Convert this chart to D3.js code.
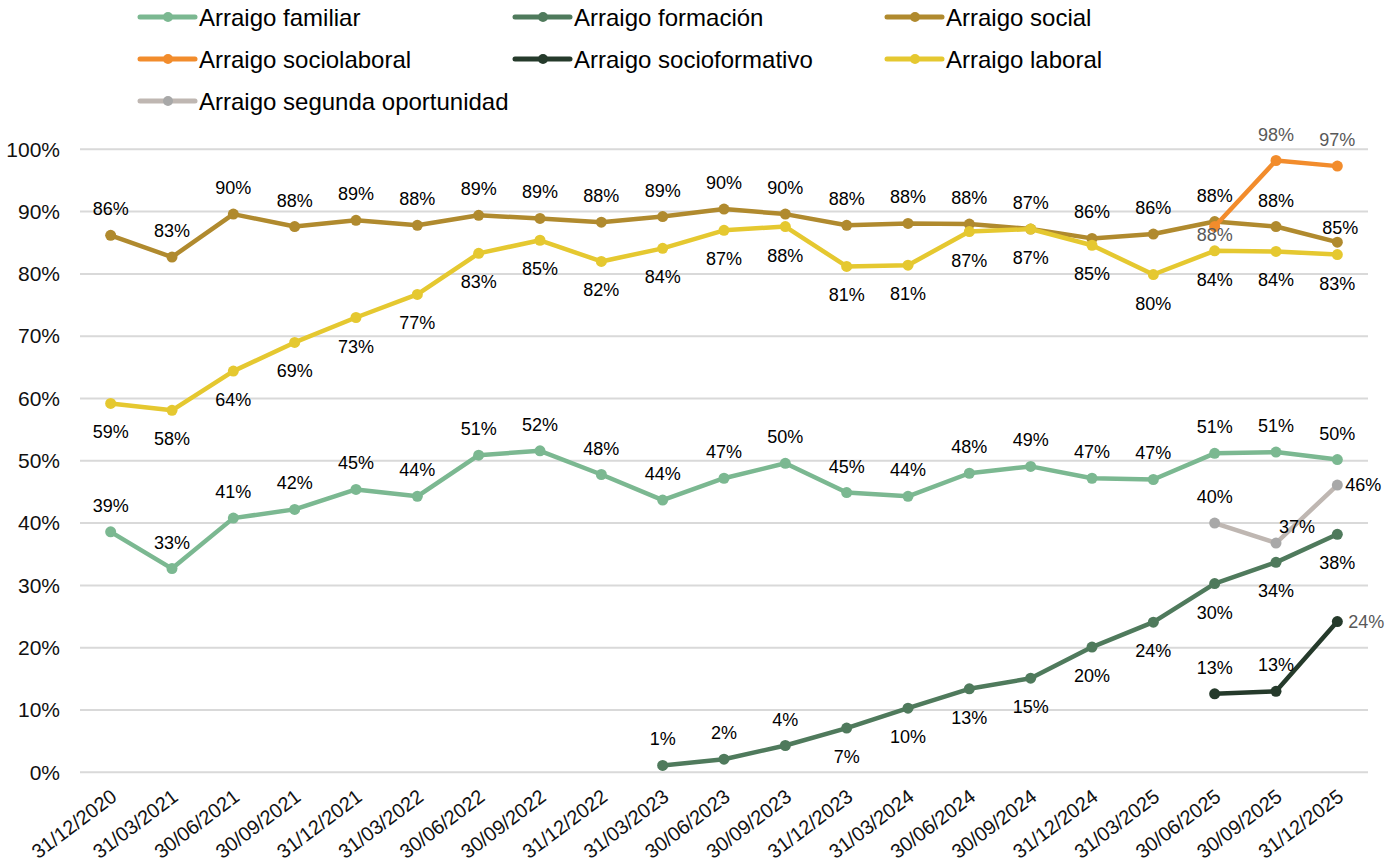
<!DOCTYPE html>
<html>
<head>
<meta charset="utf-8">
<script src="https://cdn.jsdelivr.net/npm/d3@7"></script>
<style>
  html, body { margin: 0; padding: 0; background: #fff; }
  svg { display: block; font-family: Arial, "Liberation Sans", sans-serif; }
</style>
</head>
<body>
<svg id="chart" width="1398" height="863"></svg>
<script>
// ---------- DATA ----------
const categories = ["31/12/2020","31/03/2021","30/06/2021","30/09/2021","31/12/2021","31/03/2022","30/06/2022","30/09/2022","31/12/2022","31/03/2023","30/06/2023","30/09/2023","31/12/2023","31/03/2024","30/06/2024","30/09/2024","31/12/2024","31/03/2025","30/06/2025","30/09/2025","31/12/2025"];

const arraigoFamiliar = [0.386,0.327,0.408,0.422,0.454,0.443,0.509,0.516,0.478,0.437,0.472,0.496,0.449,0.443,0.480,0.491,0.472,0.470,0.512,0.514,0.502];
const arraigoFormacion = [null,null,null,null,null,null,null,null,null,0.011,0.021,0.043,0.071,0.103,0.134,0.151,0.201,0.241,0.303,0.337,0.382];
const arraigoSocial = [0.862,0.827,0.896,0.876,0.886,0.878,0.894,0.889,0.883,0.892,0.904,0.896,0.878,0.881,0.880,0.872,0.857,0.864,0.884,0.876,0.851];
const arraigoSociolaboral = [null,null,null,null,null,null,null,null,null,null,null,null,null,null,null,null,null,null,0.876,0.982,0.973];
const arraigoSocioformativo = [null,null,null,null,null,null,null,null,null,null,null,null,null,null,null,null,null,null,0.126,0.130,0.242];
const arraigoLaboral = [0.592,0.581,0.644,0.690,0.730,0.767,0.833,0.854,0.820,0.841,0.870,0.876,0.812,0.814,0.868,0.872,0.846,0.799,0.837,0.836,0.831];
const arraigoSegunda = [null,null,null,null,null,null,null,null,null,null,null,null,null,null,null,null,null,null,0.400,0.368,0.461];

const seriesNames = ["Arraigo familiar","Arraigo formación","Arraigo social","Arraigo sociolaboral","Arraigo socioformativo","Arraigo laboral","Arraigo segunda oportunidad"];
const yTicks = [0,0.1,0.2,0.3,0.4,0.5,0.6,0.7,0.8,0.9,1.0];

// ---------- STYLE / LABEL PLACEMENT ----------
const seriesStyle = [
  {line:"#7BB891", marker:"#7BB891", label:"#000"},
  {line:"#4F7A5C", marker:"#4F7A5C", label:"#000"},
  {line:"#B08A2E", marker:"#B08A2E", label:"#000"},
  {line:"#F28C2C", marker:"#F28C2C", label:"#595959"},
  {line:"#253A2B", marker:"#253A2B", label:"#000"},
  {line:"#E5C830", marker:"#E5C830", label:"#000"},
  {line:"#BFB7B2", marker:"#A8A8A8", label:"#000"}
];
// placement codes: a = above, b = below, r = right, c = centre-ish, s = special
const placement = [
  Array(21).fill("a"),
  ["","","","","","","","","","a","a","a","b","b","b","b","b","b","b","b","b"],
  [...Array(20).fill("a"), "s85"],
  [...Array(18).fill(""), "c", "a", "a"],
  [...Array(18).fill(""), "a", "a", "rg"],
  Array(21).fill("b"),
  [...Array(18).fill(""), "a", "s37", "r"]
];

const seriesData = [arraigoFamiliar, arraigoFormacion, arraigoSocial, arraigoSociolaboral, arraigoSocioformativo, arraigoLaboral, arraigoSegunda];

// ---------- CHART ----------
const svg = d3.select("#chart");
const plot = {left: 80, right: 1368, top: 149.3, bottom: 772.3};

const x = d3.scalePoint().domain(categories).range([plot.left, plot.right]).padding(0.5);
const y = d3.scaleLinear().domain([0, 1]).range([plot.bottom, plot.top]);

// gridlines
svg.append("g").selectAll("line").data(yTicks).join("line")
  .attr("x1", plot.left).attr("x2", plot.right)
  .attr("y1", d => y(d)).attr("y2", d => y(d))
  .attr("stroke", "#D9D9D9").attr("stroke-width", 2);

// y axis labels
const yAxis = d3.axisLeft(y).tickValues(yTicks).tickFormat(d3.format(".0%")).tickSize(0).tickPadding(0);
const gy = svg.append("g").attr("transform", `translate(${plot.left - 20},0)`).call(yAxis);
gy.select(".domain").remove();
gy.selectAll("text").attr("font-size", 21).attr("fill", "#111").attr("font-family", "Arial, 'Liberation Sans', sans-serif");

// x axis labels
const xAxis = d3.axisBottom(x).tickSize(0).tickPadding(0);
const gx = svg.append("g").attr("transform", `translate(0,${plot.bottom})`).call(xAxis);
gx.select(".domain").remove();
gx.selectAll("text")
  .attr("font-size", 20).attr("fill", "#111").attr("font-family", "Arial, 'Liberation Sans', sans-serif")
  .attr("text-anchor", "end").attr("dy", 0).attr("y", 0)
  .attr("transform", "translate(7,27) rotate(-37)");

// lines and markers
const line = d3.line().defined(d => d.v != null).x(d => x(d.c)).y(d => y(d.v));
seriesData.forEach((vals, i) => {
  const pts = vals.map((v, j) => ({c: categories[j], v: v, j: j}));
  const g = svg.append("g");
  g.append("path").datum(pts).attr("d", line)
    .attr("fill", "none").attr("stroke", seriesStyle[i].line)
    .attr("stroke-width", 4.5).attr("stroke-linejoin", "round").attr("stroke-linecap", "round");
  g.selectAll("circle").data(pts.filter(d => d.v != null)).join("circle")
    .attr("cx", d => x(d.c)).attr("cy", d => y(d.v)).attr("r", 5.5)
    .attr("fill", seriesStyle[i].marker);
});

// data labels
const fmt = d3.format(".0%");
const labelLayer = svg.append("g").attr("font-size", 18);
seriesData.forEach((vals, i) => {
  vals.forEach((v, j) => {
    if (v == null) return;
    const p = placement[i][j];
    let px = x(categories[j]), py = y(v), anchor = "middle", color = seriesStyle[i].label;
    if (p === "a") py -= 26;
    else if (p === "b") py += 29;
    else if (p === "c") py += 8;
    else if (p === "s85") { py -= 14; px += 3; }
    else if (p === "s37") { py -= 16; px += 21; }
    else if (p === "r") { px += 8; anchor = "start"; }
    else if (p === "rg") { px += 11; anchor = "start"; color = "#595959"; }
    labelLayer.append("text").attr("x", px).attr("y", py)
      .attr("text-anchor", anchor).attr("dominant-baseline", "central")
      .attr("fill", color).text(fmt(v));
  });
});

// legend
const legendCols = [140, 515, 887];
const legendRows = [17, 59, 101];
const lg = svg.append("g");
seriesNames.forEach((name, i) => {
  const lx = legendCols[i % 3], ly = legendRows[Math.floor(i / 3)];
  const item = lg.append("g").attr("transform", `translate(${lx},${ly})`);
  item.append("line").attr("x1", 0).attr("x2", 55).attr("y1", 0).attr("y2", 0)
    .attr("stroke", seriesStyle[i].line).attr("stroke-width", 5).attr("stroke-linecap", "round");
  item.append("circle").attr("cx", 28).attr("cy", 0).attr("r", 5).attr("fill", seriesStyle[i].marker);
  item.append("text").attr("x", 59).attr("y", 0).attr("dominant-baseline", "central")
    .attr("font-size", 24).attr("fill", "#000").text(name);
});
</script>
</body>
</html>
